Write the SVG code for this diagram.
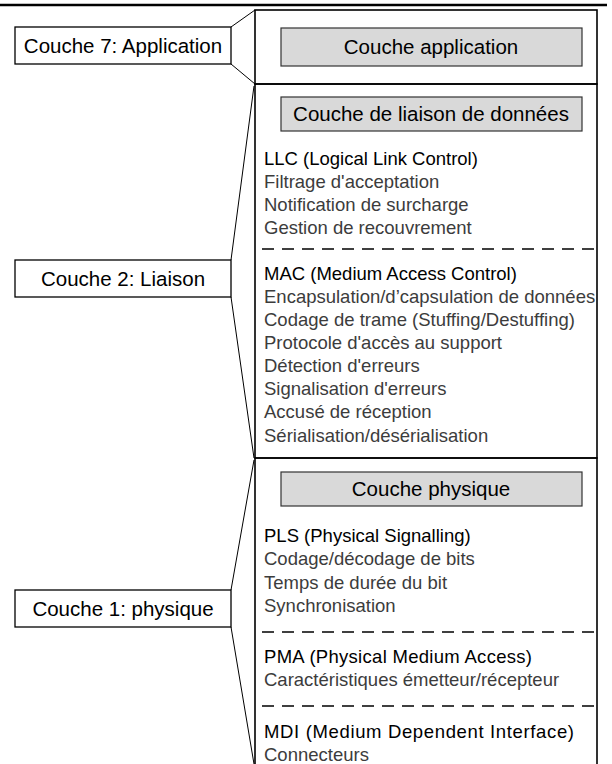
<svg xmlns="http://www.w3.org/2000/svg" width="612" height="764" viewBox="0 0 612 764">
  <style>
    text { font-family: "Liberation Sans", Arial, sans-serif; font-size: 18.5px; }
    .lbl { fill: #000; text-anchor: middle; font-size: 20.5px; }
    .ttl { fill: #000; }
    .itm { fill: #3c3c3c; }
    .box { fill: #fff; stroke: #000; stroke-width: 1.3; }
    .gbox { fill: #d9d9d9; stroke: #333; stroke-width: 1.2; }
    .sec { fill: none; stroke: #000; stroke-width: 1.6; }
    .dash { stroke: #000; stroke-width: 1.3; stroke-dasharray: 12 8; fill: none; }
    .conn { stroke: #000; stroke-width: 1; fill: none; }
  </style>
  <rect width="612" height="764" fill="#fff"/>
  <line x1="0" y1="5" x2="607" y2="5" stroke="#000" stroke-width="2.5"/>

  <g id="connectors">
    <line class="conn" x1="231" y1="27" x2="255" y2="10"/>
    <line class="conn" x1="231" y1="64" x2="255" y2="84"/>
    <line class="conn" x1="231" y1="260" x2="254" y2="86"/>
    <line class="conn" x1="231" y1="297" x2="254" y2="458"/>
    <line class="conn" x1="231" y1="590" x2="254" y2="460"/>
    <line class="conn" x1="231" y1="627" x2="254" y2="764"/>
  </g>

  <g id="layer7">
    <rect class="box" x="15" y="27" width="216" height="37"/>
    <text class="lbl" x="123" y="53">Couche 7: Application</text>
  </g>
  <g id="layer2">
    <rect class="box" x="15" y="260" width="216" height="37"/>
    <text class="lbl" x="123" y="286">Couche 2: Liaison</text>
  </g>
  <g id="layer1">
    <rect class="box" x="15" y="590" width="216" height="37"/>
    <text class="lbl" x="123" y="616">Couche 1: physique</text>
  </g>

  <g id="app-section">
    <rect class="sec" x="255" y="10" width="342" height="74"/>
    <rect class="gbox" x="281" y="28" width="301" height="38"/>
    <text class="lbl" x="431" y="54">Couche application</text>
  </g>

  <g id="datalink-section">
    <path class="sec" d="M255,84 H597 V458 H255 Z"/>
    <rect class="gbox" x="281" y="97" width="301" height="34"/>
    <text class="lbl" x="431" y="121">Couche de liaison de données</text>
    <text class="ttl" x="264" y="165">LLC (Logical Link Control)</text>
    <text class="itm" x="264" y="188">Filtrage d'acceptation</text>
    <text class="itm" x="264" y="211">Notification de surcharge</text>
    <text class="itm" x="264" y="234">Gestion de recouvrement</text>
    <line class="dash" x1="262" y1="249" x2="595" y2="249"/>
    <text class="ttl" x="264" y="280">MAC (Medium Access Control)</text>
    <text class="itm" x="264" y="303">Encapsulation/d’capsulation de données</text>
    <text class="itm" x="264" y="326">Codage de trame (Stuffing/Destuffing)</text>
    <text class="itm" x="264" y="349">Protocole d'accès au support</text>
    <text class="itm" x="264" y="372">Détection d'erreurs</text>
    <text class="itm" x="264" y="395">Signalisation d'erreurs</text>
    <text class="itm" x="264" y="418">Accusé de réception</text>
    <text class="itm" x="264" y="442">Sérialisation/désérialisation</text>
  </g>

  <g id="physical-section">
    <path class="sec" d="M255,764 V458 H597 V764"/>
    <rect class="gbox" x="281" y="472" width="301" height="34"/>
    <text class="lbl" x="431" y="496">Couche physique</text>
    <text class="ttl" x="264" y="542">PLS (Physical Signalling)</text>
    <text class="itm" x="264" y="565">Codage/décodage de bits</text>
    <text class="itm" x="264" y="589">Temps de durée du bit</text>
    <text class="itm" x="264" y="612">Synchronisation</text>
    <line class="dash" x1="262" y1="632" x2="595" y2="632"/>
    <text class="ttl" x="264" y="663" textLength="268">PMA (Physical Medium Access)</text>
    <text class="itm" x="264" y="686">Caractéristiques émetteur/récepteur</text>
    <line class="dash" x1="262" y1="706" x2="595" y2="706"/>
    <text class="ttl" x="264" y="738" textLength="310">MDI (Medium Dependent Interface)</text>
    <text class="itm" x="264" y="761">Connecteurs</text>
  </g>
</svg>
